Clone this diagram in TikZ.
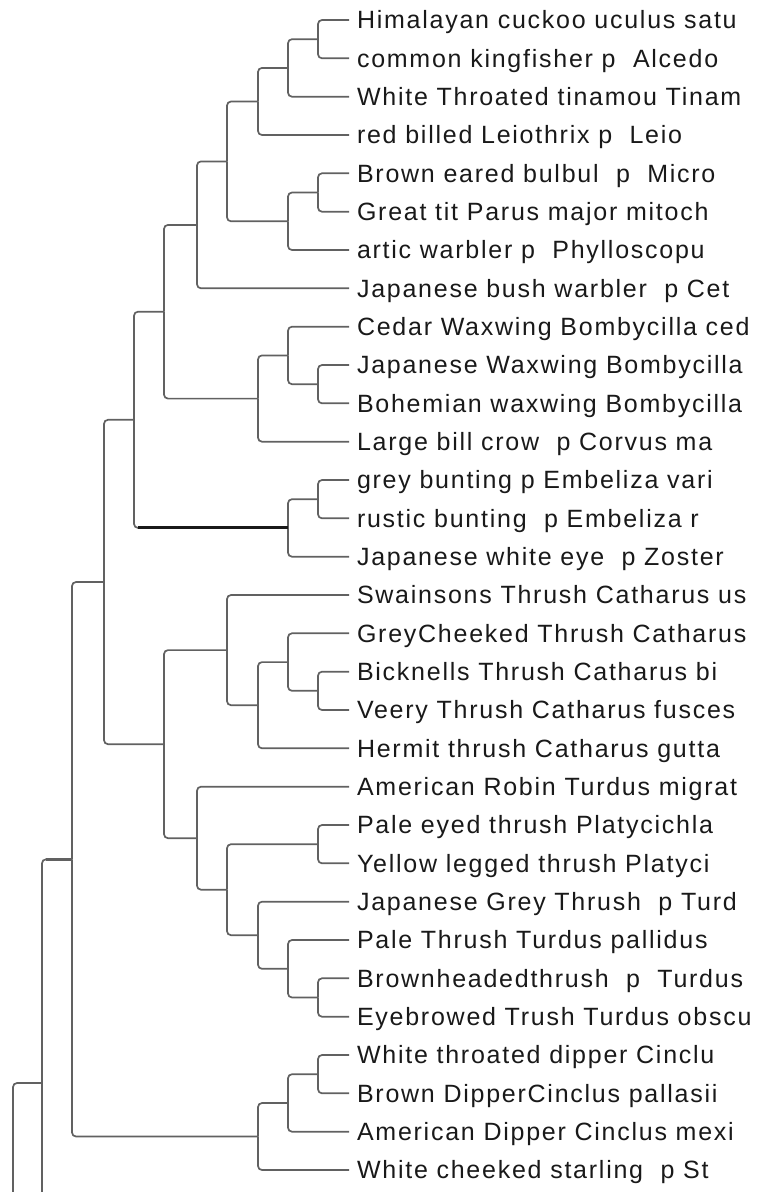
\documentclass[tikz,border=0pt]{standalone}
\usepackage{fontspec}
\setmainfont{Liberation Sans}[LetterSpace=7]
\begin{document}
\begin{tikzpicture}[x=1pt,y=-1pt,
  br/.style={draw=black!62,line width=1.7pt,rounded corners=4pt},
  brbold/.style={draw=black!90,line width=3pt},
  leaf/.style={anchor=west,inner xsep=8pt,inner ysep=0pt,outer sep=0pt,
    text height=17.9pt,text depth=0pt,text=black!90,
    font=\fontsize{25}{29}\selectfont}]
\clip (0,0) rectangle (763,1192);
% leaves
\node[leaf] (L1)  at (349,20)     {Himalayan cuckoo uculus satu};
\node[leaf] (L2)  at (349,58.3)   {common kingfisher p~ Alcedo};
\node[leaf] (L3)  at (349,96.7)   {White Throated tinamou Tinam};
\node[leaf] (L4)  at (349,135)    {red billed Leiothrix p~ Leio};
\node[leaf] (L5)  at (349,173.3)  {Brown eared bulbul~ p~ Micro};
\node[leaf] (L6)  at (349,211.7)  {Great tit Parus major mitoch};
\node[leaf] (L7)  at (349,250)    {artic warbler p~ Phylloscopu};
\node[leaf] (L8)  at (349,288.3)  {Japanese bush warbler~ p Cet};
\node[leaf] (L9)  at (349,326.7)  {Cedar Waxwing Bombycilla ced};
\node[leaf] (L10) at (349,365)    {Japanese Waxwing Bombycilla};
\node[leaf] (L11) at (349,403.3)  {Bohemian waxwing Bombycilla};
\node[leaf] (L12) at (349,441.7)  {Large bill crow~ p Corvus ma};
\node[leaf] (L13) at (349,480)    {grey bunting p Embeliza vari};
\node[leaf] (L14) at (349,518.3)  {rustic bunting~ p Embeliza r};
\node[leaf] (L15) at (349,556.7)  {Japanese white eye~ p Zoster};
\node[leaf] (L16) at (349,595)    {Swainsons Thrush Catharus us};
\node[leaf] (L17) at (349,633.3)  {GreyCheeked Thrush Catharus};
\node[leaf] (L18) at (349,671.7)  {Bicknells Thrush Catharus bi};
\node[leaf] (L19) at (349,710)    {Veery Thrush Catharus fusces};
\node[leaf] (L20) at (349,748.3)  {Hermit thrush Catharus gutta};
\node[leaf] (L21) at (349,786.7)  {American Robin Turdus migrat};
\node[leaf] (L22) at (349,825)    {Pale eyed thrush Platycichla};
\node[leaf] (L23) at (349,863.3)  {Yellow legged thrush Platyci};
\node[leaf] (L24) at (349,901.7)  {Japanese Grey Thrush~ p Turd};
\node[leaf] (L25) at (349,940)    {Pale Thrush Turdus pallidus};
\node[leaf] (L26) at (349,978.3)  {Brownheadedthrush~ p~ Turdus};
\node[leaf] (L27) at (349,1016.7) {Eyebrowed Trush Turdus obscu};
\node[leaf] (L28) at (349,1055)   {White throated dipper Cinclu};
\node[leaf] (L29) at (349,1093.3) {Brown DipperCinclus pallasii};
\node[leaf] (L30) at (349,1131.7) {American Dipper Cinclus mexi};
\node[leaf] (L31) at (349,1170)   {White cheeked starling~ p St};
% internal nodes
\coordinate (a)  at (318,39.2);
\coordinate (b)  at (288,67.9);
\coordinate (c)  at (258,101.5);
\coordinate (d)  at (318,192.5);
\coordinate (e)  at (288,221.3);
\coordinate (f)  at (227,161.4);
\coordinate (g)  at (197,224.9);
\coordinate (h)  at (318,384.2);
\coordinate (i)  at (288,355.4);
\coordinate (j)  at (258,398.6);
\coordinate (k)  at (164,311.7);
\coordinate (l)  at (318,499.2);
\coordinate (m)  at (288,527.9);
\coordinate (n)  at (134,419.8);
\coordinate (o)  at (318,690.8);
\coordinate (p)  at (288,662.1);
\coordinate (q)  at (258,705.2);
\coordinate (r)  at (227,650.1);
\coordinate (s)  at (318,844.2);
\coordinate (t)  at (318,997.5);
\coordinate (u)  at (288,968.8);
\coordinate (v)  at (258,935.2);
\coordinate (w)  at (227,889.7);
\coordinate (x)  at (197,838.2);
\coordinate (y)  at (164,744.2);
\coordinate (z)  at (104,582);
\coordinate (aa) at (318,1074.2);
\coordinate (bb) at (288,1103);
\coordinate (cc) at (258,1136.5);
\coordinate (dd) at (72,859.3);
\coordinate (ee) at (42,1083);
\coordinate (ff) at (13,1300);
\coordinate (eeb) at (42,1300);
% branches
\draw[br] (a) |- (L1); \draw[br] (a) |- (L2);
\draw[br] (b) |- (a);  \draw[br] (b) |- (L3);
\draw[br] (c) |- (b);  \draw[br] (c) |- (L4);
\draw[br] (d) |- (L5); \draw[br] (d) |- (L6);
\draw[br] (e) |- (d);  \draw[br] (e) |- (L7);
\draw[br] (f) |- (c);  \draw[br] (f) |- (e);
\draw[br] (g) |- (f);  \draw[br] (g) |- (L8);
\draw[br] (h) |- (L10); \draw[br] (h) |- (L11);
\draw[br] (i) |- (L9); \draw[br] (i) |- (h);
\draw[br] (j) |- (i);  \draw[br] (j) |- (L12);
\draw[br] (k) |- (g);  \draw[br] (k) |- (j);
\draw[br] (l) |- (L13); \draw[br] (l) |- (L14);
\draw[br] (m) |- (l);  \draw[br] (m) |- (L15);
\draw[br] (n) |- (k);  \draw[br] (n) |- (m);
\draw[brbold,shorten <=4pt] (n |- m) -- (m);
\draw[br] (o) |- (L18); \draw[br] (o) |- (L19);
\draw[br] (p) |- (L17); \draw[br] (p) |- (o);
\draw[br] (q) |- (p);  \draw[br] (q) |- (L20);
\draw[br] (r) |- (L16); \draw[br] (r) |- (q);
\draw[br] (s) |- (L22); \draw[br] (s) |- (L23);
\draw[br] (t) |- (L26); \draw[br] (t) |- (L27);
\draw[br] (u) |- (L25); \draw[br] (u) |- (t);
\draw[br] (v) |- (L24); \draw[br] (v) |- (u);
\draw[br] (w) |- (s);  \draw[br] (w) |- (v);
\draw[br] (x) |- (L21); \draw[br] (x) |- (w);
\draw[br] (y) |- (r);  \draw[br] (y) |- (x);
\draw[br] (z) |- (n);  \draw[br] (z) |- (y);
\draw[br] (aa) |- (L28); \draw[br] (aa) |- (L29);
\draw[br] (bb) |- (aa); \draw[br] (bb) |- (L30);
\draw[br] (cc) |- (bb); \draw[br] (cc) |- (L31);
\draw[br] (dd) |- (z); \draw[br] (dd) |- (cc);
\draw[br] (ee) |- (dd);
\draw[br,line width=2.4pt,shorten <=4pt] (ee |- dd) -- (dd);
\draw[br] (ee) -- (eeb);
\draw[br] (ff) |- (ee);
\end{tikzpicture}
\end{document}
